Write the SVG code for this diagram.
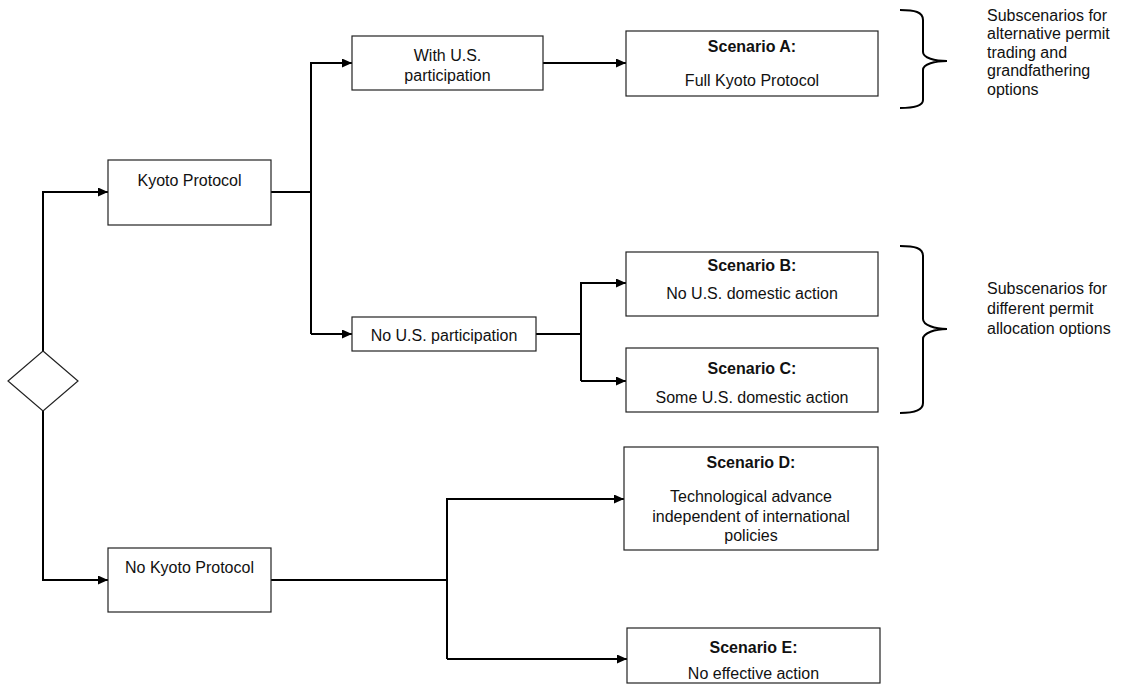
<svg xmlns="http://www.w3.org/2000/svg" width="1124" height="692" viewBox="0 0 1124 692">
<style>
.box{fill:#fff;stroke:#222;stroke-width:1.2}
.t{font-family:"Liberation Sans",Arial,sans-serif;font-size:16px;fill:#111;text-anchor:middle}
.b{font-weight:bold}
.side{font-family:"Liberation Sans",Arial,sans-serif;font-size:16px;fill:#111}
.c{fill:none;stroke:#000;stroke-width:2}
.brace{fill:none;stroke:#000;stroke-width:2}
</style>
<defs>
<marker id="ah" markerWidth="11" markerHeight="9" refX="10" refY="4.5" orient="auto" markerUnits="userSpaceOnUse">
<path d="M0,0 L10,4.5 L0,9 Z" fill="#000"/>
</marker>
</defs>
<rect width="1124" height="692" fill="#fff"/>
<g id="connectors">
<path class="c" d="M43,351 V192 H108" marker-end="url(#ah)"/>
<path class="c" d="M43,411 V580 H108" marker-end="url(#ah)"/>
<path class="c" d="M271,192 H311"/>
<path class="c" d="M311,334 V63 H352" marker-end="url(#ah)"/>
<path class="c" d="M311,334 H352" marker-end="url(#ah)"/>
<path class="c" d="M543,63 H626" marker-end="url(#ah)"/>
<path class="c" d="M536,334 H581"/>
<path class="c" d="M581,381 V283 H626" marker-end="url(#ah)"/>
<path class="c" d="M581,381 H626" marker-end="url(#ah)"/>
<path class="c" d="M271,580 H447"/>
<path class="c" d="M447,659 V499 H624" marker-end="url(#ah)"/>
<path class="c" d="M447,659 H627" marker-end="url(#ah)"/>
</g>
<g id="decision">
<polygon class="box" points="43,351 78,381 43,411 8,381"/>
</g>
<g id="kyoto">
<rect class="box" x="108" y="160" width="163" height="65"/>
<text class="t" x="189.5" y="185.5">Kyoto Protocol</text>
</g>
<g id="nokyoto">
<rect class="box" x="108" y="548" width="163" height="64"/>
<text class="t" x="189.5" y="572.5">No Kyoto Protocol</text>
</g>
<g id="withus">
<rect class="box" x="352" y="36" width="191" height="54"/>
<text class="t" x="447.5" y="60.5">With U.S.</text>
<text class="t" x="447.5" y="80.5">participation</text>
</g>
<g id="nous">
<rect class="box" x="352" y="317" width="184" height="34"/>
<text class="t" x="444" y="341">No U.S. participation</text>
</g>
<g id="scenA">
<rect class="box" x="626" y="31" width="252" height="65"/>
<text class="t b" x="752" y="51.5">Scenario A:</text>
<text class="t" x="752" y="85.5">Full Kyoto Protocol</text>
</g>
<g id="scenB">
<rect class="box" x="626" y="252" width="252" height="64"/>
<text class="t b" x="752" y="270.5">Scenario B:</text>
<text class="t" x="752" y="299">No U.S. domestic action</text>
</g>
<g id="scenC">
<rect class="box" x="626" y="348" width="252" height="64"/>
<text class="t b" x="752" y="374">Scenario C:</text>
<text class="t" x="752" y="402.5">Some U.S. domestic action</text>
</g>
<g id="scenD">
<rect class="box" x="624" y="447" width="254" height="103"/>
<text class="t b" x="751" y="467.5">Scenario D:</text>
<text class="t" x="751" y="502">Technological advance</text>
<text class="t" x="751" y="521.5">independent of international</text>
<text class="t" x="751" y="541">policies</text>
</g>
<g id="scenE">
<rect class="box" x="627" y="628" width="253" height="55"/>
<text class="t b" x="753.5" y="652.5">Scenario E:</text>
<text class="t" x="753.5" y="679">No effective action</text>
</g>
<g id="brace1">
<path class="brace" d="M900,10 C915,10 923,12 923,20 L923,52 C923,58 935,61 947,61 C935,61 923,64 923,70 L923,100 C923,106 915,108 900,108"/>
</g>
<g id="brace2">
<path class="brace" d="M900,246 C915,246 923,248 923,256 L923,319 C923,325 935,329 947,329 C935,329 923,333 923,339 L923,403 C923,410 915,413 900,413"/>
</g>
<g id="note1">
<text class="side" x="987" y="20.5">Subscenarios for</text>
<text class="side" x="987" y="39">alternative permit</text>
<text class="side" x="987" y="57.5">trading and</text>
<text class="side" x="987" y="76">grandfathering</text>
<text class="side" x="987" y="94.5">options</text>
</g>
<g id="note2">
<text class="side" x="987" y="294">Subscenarios for</text>
<text class="side" x="987" y="314">different permit</text>
<text class="side" x="987" y="334">allocation options</text>
</g>
</svg>
